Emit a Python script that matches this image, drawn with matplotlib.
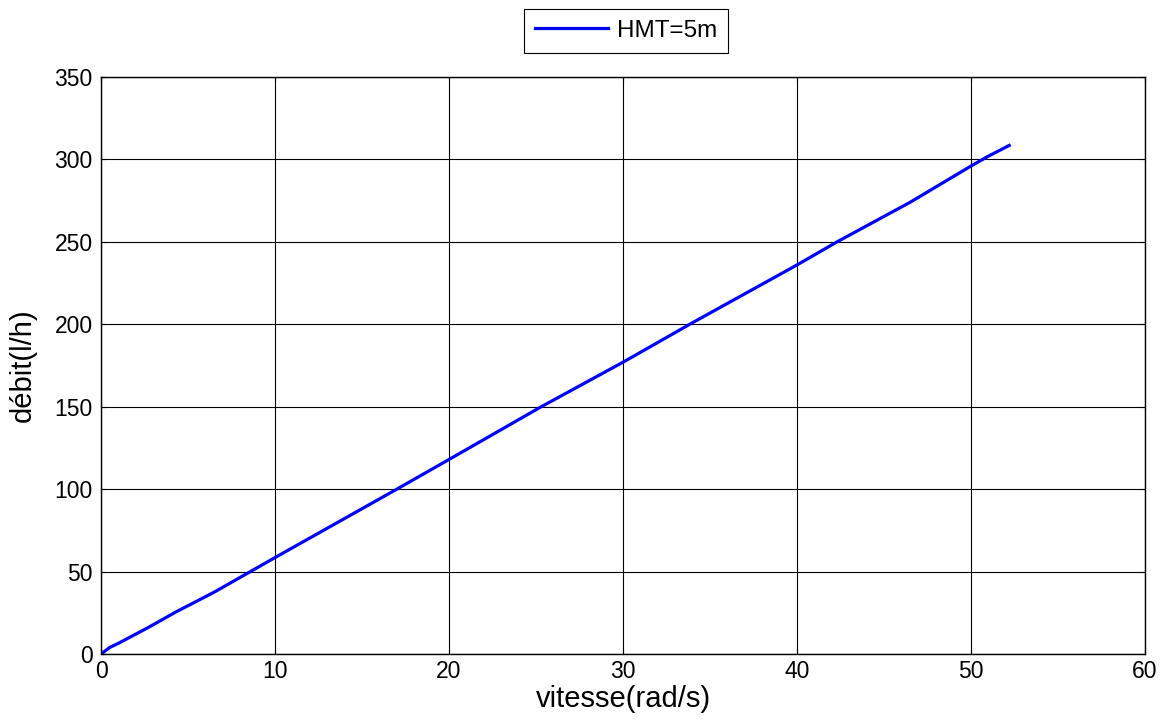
import matplotlib.pyplot as plt

vitesse = [0, 0.5, 1, 2.7, 4.3, 6.5, 8.5, 10, 17, 20, 25.3, 30, 34, 40, 42.3, 46.5, 50, 51, 52.2]
debit = [0, 4, 6.5, 16, 25.5, 37.5, 49.5, 58.5, 100, 118, 150, 177, 201, 236, 250, 274, 296, 302, 308.5]

plt.rcParams['font.family'] = ['Liberation Sans', 'DejaVu Sans']

fig = plt.figure(figsize=(11.65, 7.28), dpi=100)
ax = fig.add_axes([0.0867, 0.1016, 0.8961, 0.7926])

ax.plot(vitesse, debit, color='#0000ff', lw=2.3, label='HMT=5m')

ax.set_xlim(0, 60)
ax.set_ylim(0, 350)
ax.set_xticks(range(0, 61, 10))
ax.set_yticks(range(0, 351, 50))
ax.grid(True, color='black', lw=0.8)
ax.tick_params(direction='in', labelsize=16.5, top=True, right=True)
ax.tick_params(axis='y', pad=6)
ax.tick_params(axis='x', pad=4)
for s in ax.spines.values():
    s.set_linewidth(1)

ax.set_xlabel('vitesse(rad/s)', fontsize=21, labelpad=2)
ax.set_ylabel('débit(l/h)', fontsize=21, labelpad=13)

leg = ax.legend(loc='center', bbox_to_anchor=(0.503, 1.08), fontsize=17.5,
                fancybox=False, edgecolor='black', framealpha=1,
                handlelength=3.0, handletextpad=0.35, borderpad=0.45,
                borderaxespad=0)
leg.get_frame().set_linewidth(0.8)

fig.savefig('out.png', dpi=100)
